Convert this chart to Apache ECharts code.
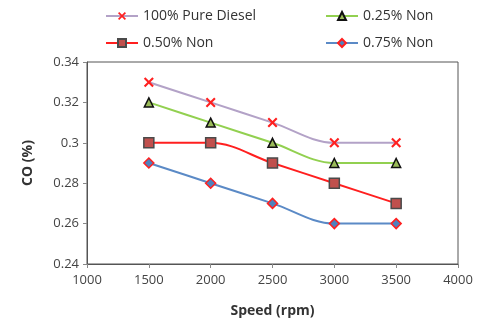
<!DOCTYPE html>
<html>
<head>
<meta charset="utf-8">
<script src="https://cdn.jsdelivr.net/npm/echarts@6/dist/echarts.min.js"></script>
<style>
  html, body { margin: 0; padding: 0; background: #fff; }
  #chart { width: 480px; height: 328px; }
</style>
</head>
<body>
<div id="chart"></div>
<script>
  const speeds = [1500, 2000, 2500, 3000, 3500]
  const seriesNames = ['100% Pure Diesel', '0.25% Non', '0.50% Non', '0.75% Non']
  const diesel = [0.33, 0.32, 0.31, 0.30, 0.30]
  const non025 = [0.32, 0.31, 0.30, 0.29, 0.29]
  const non050 = [0.30, 0.30, 0.29, 0.28, 0.27]
  const non075 = [0.29, 0.28, 0.27, 0.26, 0.26]

  const font = '"Open Sans", "Liberation Sans", sans-serif'
  const crossPath = 'path://M0,1.5L1.5,0L5,3.5L8.5,0L10,1.5L6.5,5L10,8.5L8.5,10L5,6.5L1.5,10L0,8.5L3.5,5Z'

  const pairs = v => speeds.map((s, i) => [s, v[i]])

  const mychart = echarts.init(document.getElementById('chart'))
  const legendBase = {
    itemWidth: 32,
    itemHeight: 10,
    itemGap: 0,
    textStyle: { fontFamily: font, fontSize: 14, color: '#333' }
  }
  mychart.setOption({
    animation: false,
    textStyle: { fontFamily: font },
    legend: [
      Object.assign({ data: [seriesNames[0]], left: 100, top: 4 }, legendBase),
      Object.assign({ data: [seriesNames[1]], left: 320, top: 4 }, legendBase),
      Object.assign({ data: [seriesNames[2]], left: 100, top: 31 }, legendBase),
      Object.assign({ data: [seriesNames[3]], left: 320, top: 31 }, legendBase)
    ],
    grid: {
      left: 87, right: 22, top: 62, bottom: 64,
      show: true, borderColor: '#555', borderWidth: 1
    },
    xAxis: {
      type: 'value',
      min: 1000, max: 4000, interval: 500,
      name: 'Speed (rpm)',
      nameLocation: 'middle',
      nameGap: 40,
      nameTextStyle: { fontFamily: font, fontSize: 14, fontWeight: 'bold', color: '#333' },
      axisLine: { lineStyle: { color: '#555' } },
      axisTick: { show: true, length: 4, lineStyle: { color: '#888' } },
      axisLabel: { fontSize: 13, color: '#444', margin: 10, formatter: v => String(v) },
      splitLine: { show: false }
    },
    yAxis: {
      type: 'value',
      min: 0.24, max: 0.34, interval: 0.02,
      name: 'CO (%)',
      nameLocation: 'middle',
      nameGap: 52,
      nameTextStyle: { fontFamily: font, fontSize: 14, fontWeight: 'bold', color: '#333' },
      axisLine: { show: true, lineStyle: { color: '#555' } },
      axisTick: { show: true, length: 4, lineStyle: { color: '#888' } },
      axisLabel: { fontSize: 13, color: '#444', margin: 8 },
      splitLine: { show: false }
    },
    series: [
      {
        name: seriesNames[0], type: 'line', smooth: 0.35,
        data: pairs(diesel),
        symbol: crossPath, symbolSize: 10,
        lineStyle: { color: '#b3a2c7', width: 2 },
        itemStyle: { color: '#ff2020', borderWidth: 0 }
      },
      {
        name: seriesNames[1], type: 'line', smooth: 0.35,
        data: pairs(non025),
        symbol: 'triangle', symbolSize: 9,
        lineStyle: { color: '#92d050', width: 2 },
        itemStyle: { color: '#9bbb59', borderColor: '#111', borderWidth: 1.5 }
      },
      {
        name: seriesNames[2], type: 'line', smooth: 0.35,
        data: pairs(non050),
        symbol: 'rect', symbolSize: 10,
        lineStyle: { color: '#ff1f1f', width: 2 },
        itemStyle: { color: '#c0504d', borderColor: '#4a4a4a', borderWidth: 1.5 }
      },
      {
        name: seriesNames[3], type: 'line', smooth: 0.35,
        data: pairs(non075),
        symbol: 'diamond', symbolSize: 10,
        lineStyle: { color: '#5b8ac6', width: 2 },
        itemStyle: { color: '#4f81bd', borderColor: '#ff2020', borderWidth: 1.5 }
      }
    ]
  })
  window.addEventListener('resize', function () {
    mychart.resize()
  })
</script>
</body>
</html>
